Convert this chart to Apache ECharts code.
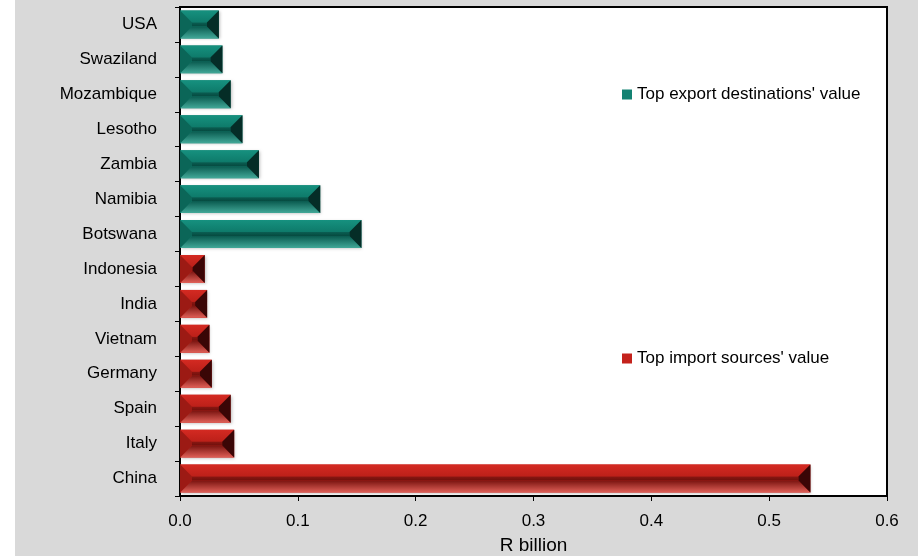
<!DOCTYPE html>
<html>
<head>
<meta charset="utf-8">
<script src="https://cdn.jsdelivr.net/npm/echarts@6/dist/echarts.min.js"></script>
<style>
html,body{margin:0;padding:0;background:#fff;}
#wrap{position:absolute;left:15px;top:0;width:903px;height:556px;background:#d9d9d9;}
#chart{position:absolute;left:0;top:0;width:918px;height:556px;}
</style>
</head>
<body>
<div id="wrap"></div>
<div id="chart"></div>
<script>
// Categories top to bottom
const categories = ['USA','Swaziland','Mozambique','Lesotho','Zambia','Namibia','Botswana',
  'Indonesia','India','Vietnam','Germany','Spain','Italy','China'];
const exportValues = [0.033,0.036,0.043,0.053,0.067,0.119,0.154,null,null,null,null,null,null,null];
const importValues = [null,null,null,null,null,null,null,0.021,0.023,0.025,0.027,0.043,0.046,0.535];
const xTicks = [0,0.1,0.2,0.3,0.4,0.5,0.6];
const exportName = "Top export destinations' value";
const importName = "Top import sources' value";

const palettes = {
  teal: {base:'#12806f', top:['#16917f','#0e7a6a'], center:['#0a5e52','#064a40'], bottom:['#0a5a4f','#42a898'], left:'#0b6658', right:'#052d27'},
  red:  {base:'#c4221c', top:['#d42a22','#bc2019'], center:['#8a1712','#6e100c'], bottom:['#7a1410','#e06058'], left:'#9c1a14', right:'#3a0606'}
};

function grad(c){return new echarts.graphic.LinearGradient(0,0,0,1,[{offset:0,color:c[0]},{offset:1,color:c[1]}]);}

function makeRender(pal){
  return function(params, api){
    const v = api.value(0), c = api.value(1);
    if (v == null || isNaN(v)) return;
    const p0 = api.coord([0,c]), p1 = api.coord([v,c]);
    const band = Math.abs(api.size([0,1])[1]);
    const h = band*0.8;
    const x0 = p0[0], x1 = p1[0];
    const y0 = p0[1]-h/2, y1 = y0+h;
    const w = x1-x0;
    const d = Math.min(h*0.43, w/2);
    const poly = (pts, fill) => ({type:'polygon', shape:{points:pts}, style:{fill:fill, stroke:null}});
    return {type:'group', children:[
      {type:'rect', shape:{x:x0,y:y0,width:w,height:h}, style:{fill:pal.base, shadowBlur:3, shadowColor:'rgba(0,0,0,0.25)', shadowOffsetX:1, shadowOffsetY:1}},
      poly([[x0,y0],[x1,y0],[x1-d,y0+d],[x0+d,y0+d]], grad(pal.top)),
      {type:'rect', shape:{x:x0+d,y:y0+d,width:Math.max(0,w-2*d),height:h-2*d}, style:{fill:grad(pal.center)}},
      poly([[x0,y1],[x1,y1],[x1-d,y1-d],[x0+d,y1-d]], grad(pal.bottom)),
      poly([[x0,y0],[x0+d,y0+d],[x0+d,y1-d],[x0,y1]], pal.left),
      poly([[x1,y0],[x1-d,y0+d],[x1-d,y1-d],[x1,y1]], pal.right)
    ]};
  };
}

const toData = arr => arr.map((v,i)=> v==null ? null : [v,i]).filter(d=>d);

const chart = echarts.init(document.getElementById('chart'), null, {renderer:'canvas'});
const font = 'Liberation Sans, Arial, sans-serif';
chart.setOption({
  backgroundColor:'transparent',
  animation:false,
  textStyle:{fontFamily:font},
  grid:{left:180, right:31, top:7, bottom:60, containLabel:false, outerBoundsMode:'none',
    show:true, backgroundColor:'#fff', borderColor:'#000', borderWidth:2},
  legend:[
    {data:[{name:exportName, icon:'rect'}], left:617, top:81, itemWidth:10, itemHeight:10, itemGap:6,
     textStyle:{fontSize:17, color:'#000', fontFamily:font}},
    {data:[{name:importName, icon:'rect'}], left:617, top:345, itemWidth:10, itemHeight:10, itemGap:6,
     textStyle:{fontSize:17, color:'#000', fontFamily:font}}
  ],
  xAxis:{type:'value', min:0, max:0.6, interval:0.1,
    name:'R billion', nameLocation:'middle', nameGap:40, nameTextStyle:{fontSize:19, color:'#000'},
    axisLine:{show:true, lineStyle:{color:'#000', width:2}},
    axisTick:{show:true, length:5, lineStyle:{color:'#000'}},
    splitLine:{show:false},
    axisLabel:{fontSize:17, color:'#000', margin:17, formatter:v=>v.toFixed(1)}},
  yAxis:{type:'category', data:categories, inverse:true,
    axisLine:{show:true, lineStyle:{color:'#000', width:2}},
    axisTick:{show:true, length:5, lineStyle:{color:'#000'}},
    axisLabel:{fontSize:17, color:'#000', margin:23}},
  series:[
    {name:exportName, type:'custom', renderItem:makeRender(palettes.teal), itemStyle:{color:'#138272'},
     encode:{x:0,y:1}, data:toData(exportValues), z:3},
    {name:importName, type:'custom', renderItem:makeRender(palettes.red), itemStyle:{color:'#c4221c'},
     encode:{x:0,y:1}, data:toData(importValues), z:3}
  ]
});
</script>
</body>
</html>
